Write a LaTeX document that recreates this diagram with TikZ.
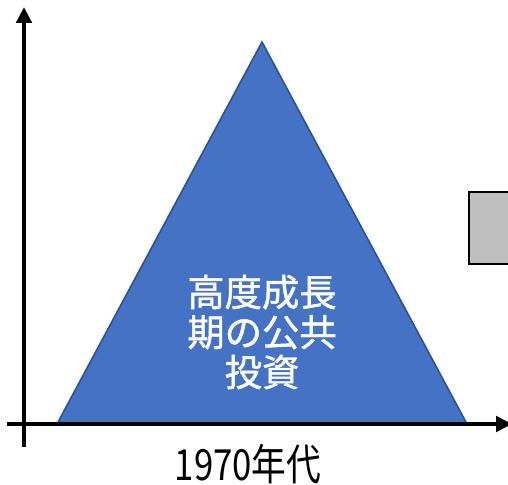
\documentclass[tikz,border=0pt]{standalone}
\usepackage{fontspec}
\newfontfamily\cjk{Noto Sans CJK JP}
\newfontfamily\cjkmed[FakeBold=1.2]{Noto Sans CJK JP}
\usetikzlibrary{arrows.meta}
\definecolor{triblue}{HTML}{4472C4}
\definecolor{triedge}{HTML}{2F528F}
\definecolor{boxgray}{HTML}{BFBFBF}
\tikzset{
  axis/.style={line width=3pt,-{Triangle[width=11.5pt,length=12pt]}},
  tri/.style={fill=triblue,draw=triedge,line width=1.2pt,line join=miter},
  graybox/.style={fill=boxgray,draw=black,line width=1.7pt},
  intext/.style={text=white,font=\cjkmed\fontsize{28}{30}\selectfont,align=center},
  axlabel/.style={font=\cjk\fontsize{28}{30}\selectfont}
}
\begin{document}
\begin{tikzpicture}[x=0.75pt,y=-0.75pt]
\useasboundingbox (0,0) rectangle (508,485);
\clip (0,0) rectangle (508,485);
\coordinate (A) at (262,42);
\coordinate (B) at (57,424);
\coordinate (C) at (467,424);
\draw[graybox] (469,192) rectangle (530,264);
\draw[tri] (A) -- (B) -- (C) -- cycle;
\coordinate (vs) at (24,447);
\coordinate (ve) at (24,7);
\coordinate (hs) at (7,424);
\coordinate (he) at (512,424);
\draw[axis] (vs) -- (ve);
\draw[axis] (hs) -- (he);
\node[intext] (t) at (262,332) {高度成長\\期の公共\\投資};
\node[axlabel] (lab) at (248,464) {\scalebox{0.93}[1.15]{1970年代}};
\end{tikzpicture}
\end{document}
